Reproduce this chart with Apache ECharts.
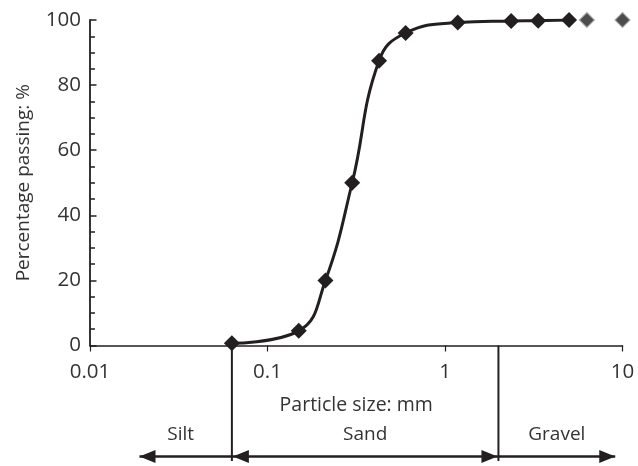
<!DOCTYPE html>
<html>
<head>
<meta charset="utf-8">
<script src="https://cdn.jsdelivr.net/npm/echarts@6/dist/echarts.min.js"></script>
<style>
  html, body { margin: 0; padding: 0; background: #fff; }
  #chart { width: 638px; height: 466px; }
</style>
</head>
<body>
<div id="chart"></div>
<script>
// ---- data ----
const sizes = [0.063, 0.15, 0.212, 0.3, 0.425, 0.6, 1.18, 2.36, 3.35, 5];
const passing = [0.7, 4.5, 20, 50, 87.5, 96, 99.2, 99.7, 99.8, 100];
const extraSizes = [6.3, 10];
const extraPassing = [100, 100];
const xTickLabels = ['0.01', '0.1', '1', '10'];
const yTickLabels = [0, 20, 40, 60, 80, 100];
const zoneNames = ['Silt', 'Sand', 'Gravel'];
const zoneBounds = [0.019, 0.063, 2, 9.1];

const INK = '#231f20';
const TEXT = '#333333';
const FONT = '"Open Sans", "Noto Sans", sans-serif';

const chart = echarts.init(document.getElementById('chart'), null, { renderer: 'canvas' });

const mainData = sizes.map((s, i) => [s, passing[i]]);
const extraData = extraSizes.map((s, i) => [s, extraPassing[i]]);

chart.setOption({
  animation: false,
  backgroundColor: '#fff',
  grid: { left: 90, right: 15.5, top: 20, bottom: 120.5, containLabel: false },
  xAxis: {
    type: 'log',
    logBase: 10,
    min: 0.01,
    max: 10,
    name: 'Particle size: mm',
    nameLocation: 'middle',
    nameGap: 50,
    nameTextStyle: { color: TEXT, fontSize: 19.5, fontFamily: FONT },
    axisLine: { show: true, lineStyle: { color: INK, width: 1.6 } },
    axisTick: { show: true, inside: false, length: 6, lineStyle: { color: INK, width: 1.2 } },
    axisLabel: {
      color: TEXT, fontSize: 20.5, fontFamily: FONT, margin: 16,
      formatter: v => {
        const s = String(+Number(v).toPrecision(6));
        return xTickLabels.indexOf(s) >= 0 ? s : '';
      }
    },
    splitLine: { show: false },
    minorTick: { show: false }
  },
  yAxis: {
    type: 'value',
    min: yTickLabels[0],
    max: yTickLabels[yTickLabels.length - 1],
    interval: 20,
    name: 'Percentage passing: %',
    nameLocation: 'middle',
    nameGap: 57,
    nameTextStyle: { color: TEXT, fontSize: 19, fontFamily: FONT },
    axisLine: { show: true, lineStyle: { color: INK, width: 1.8 } },
    axisTick: { show: true, inside: true, length: 6.5, lineStyle: { color: INK, width: 1.5 } },
    minorTick: { show: true, splitNumber: 4, length: 5, lineStyle: { color: INK, width: 1.5 } },
    axisLabel: { color: TEXT, fontSize: 20.5, fontFamily: FONT, margin: 9 },
    splitLine: { show: false },
    minorSplitLine: { show: false }
  },
  series: [
    {
      type: 'line',
      data: mainData,
      smooth: 0.45,
      symbol: 'diamond',
      symbolSize: 16,
      showSymbol: true,
      lineStyle: { color: INK, width: 3 },
      itemStyle: { color: INK },
      z: 3
    },
    {
      type: 'scatter',
      data: extraData,
      symbol: 'diamond',
      symbolSize: 15,
      itemStyle: { color: INK, borderColor: '#a8a8a8', borderWidth: 1.2 },
      z: 3
    }
  ]
});

// ---- soil classification annotations below the axis ----
function xPix(v) { return chart.convertToPixel({ xAxisIndex: 0 }, v); }
const axisY = chart.convertToPixel({ yAxisIndex: 0 }, 0);
const arrowY = 456.5;
const labelY = 434.5;
const lineBottom = 461;
const headL = 16, headH = 6.5;
const elements = [];

// boundary lines
[zoneBounds[1], zoneBounds[2]].forEach(b => {
  const x = xPix(b);
  elements.push({
    type: 'line',
    shape: { x1: x, y1: axisY, x2: x, y2: lineBottom },
    style: { stroke: INK, lineWidth: 2 }
  });
});

function head(tipX, dir) {
  return {
    type: 'polygon',
    shape: { points: [[tipX, arrowY], [tipX - dir * headL, arrowY - headH], [tipX - dir * headL, arrowY + headH]] },
    style: { fill: INK }
  };
}

zoneNames.forEach((name, i) => {
  const x1 = xPix(zoneBounds[i]);
  const x2 = xPix(zoneBounds[i + 1]);
  elements.push({
    type: 'line',
    shape: { x1: x1, y1: arrowY, x2: x2, y2: arrowY },
    style: { stroke: INK, lineWidth: 2.6 }
  });
  if (i === 0) elements.push(head(x1, -1));
  if (i === 1) { elements.push(head(x1 + 1, -1)); elements.push(head(x2 - 1, 1)); }
  if (i === 2) elements.push(head(x2, 1));
  const cx = i === 0 ? (x1 + x2) / 2 - 5 : (x1 + x2) / 2;
  elements.push({
    type: 'text',
    x: cx, y: labelY,
    style: { text: name, fill: TEXT, fontSize: 19, fontFamily: FONT, align: 'center', verticalAlign: 'middle' }
  });
});

chart.setOption({ graphic: { elements: elements } });
</script>
</body>
</html>
